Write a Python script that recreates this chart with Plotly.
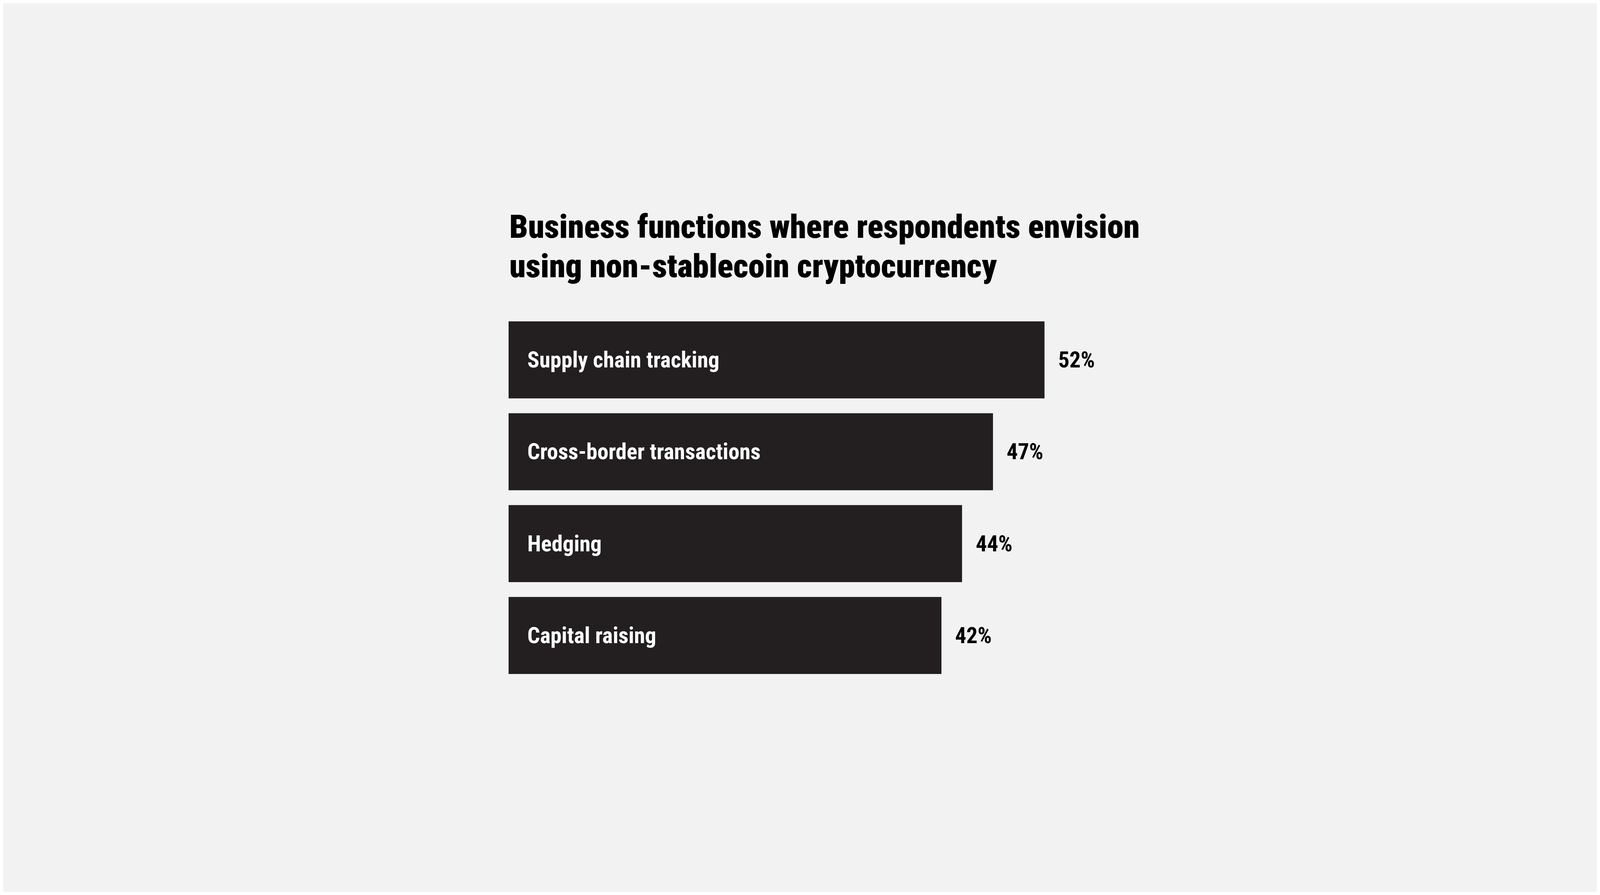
import plotly.graph_objects as go

# survey results, top to bottom
functions = ["Supply chain tracking", "Cross-border transactions", "Hedging", "Capital raising"]
shares = [52, 47, 44, 42]
share_labels = ["52%", "47%", "44%", "42%"]

title_lines = ["Business functions where respondents envision",
               "using non-stablecoin cryptocurrency"]

FONT = "Roboto Condensed, Liberation Sans Narrow, Roboto, sans-serif"
BAR = "#231f20"
BG = "#f2f2f2"

fig = go.Figure()
fig.add_trace(go.Bar(
    x=shares,
    y=functions,
    orientation="h",
    marker=dict(color=BAR, line=dict(width=0)),
    hoverinfo="skip",
))

annotations = []
for name, val, lab in zip(functions, shares, share_labels):
    annotations.append(dict(
        x=0, y=name, xref="x", yref="y", text=name,
        xanchor="left", yanchor="middle", xshift=46, showarrow=False,
        font=dict(family=FONT, size=57, color="#ffffff", weight=700),
    ))
    annotations.append(dict(
        x=val, y=name, xref="x", yref="y", text=lab,
        xanchor="left", yanchor="middle", xshift=33, showarrow=False,
        font=dict(family=FONT, size=57, color="#000000", weight=700),
    ))

# title, two lines placed separately
for line, ypos in zip(title_lines, [1.2375, 1.1302]):
    annotations.append(dict(
        x=0, y=ypos, xref="paper", yref="paper", text=line,
        xanchor="left", yanchor="middle", showarrow=False,
        font=dict(family=FONT, size=84, color="#000000", weight=900),
    ))

# page fills the window; the side margins keep the chart where the original sits
fig.update_layout(
    autosize=True,
    margin=dict(l=1294, r=1203, t=796, b=539),
    paper_bgcolor=BG,
    plot_bgcolor=BG,
    bargap=0.162,
    showlegend=False,
    annotations=annotations,
    xaxis=dict(range=[0, 60], visible=False, fixedrange=True),
    yaxis=dict(categoryorder="array", categoryarray=functions, autorange="reversed",
               visible=False, fixedrange=True),
)

fig.write_html("out.html", config={"displayModeBar": False})
